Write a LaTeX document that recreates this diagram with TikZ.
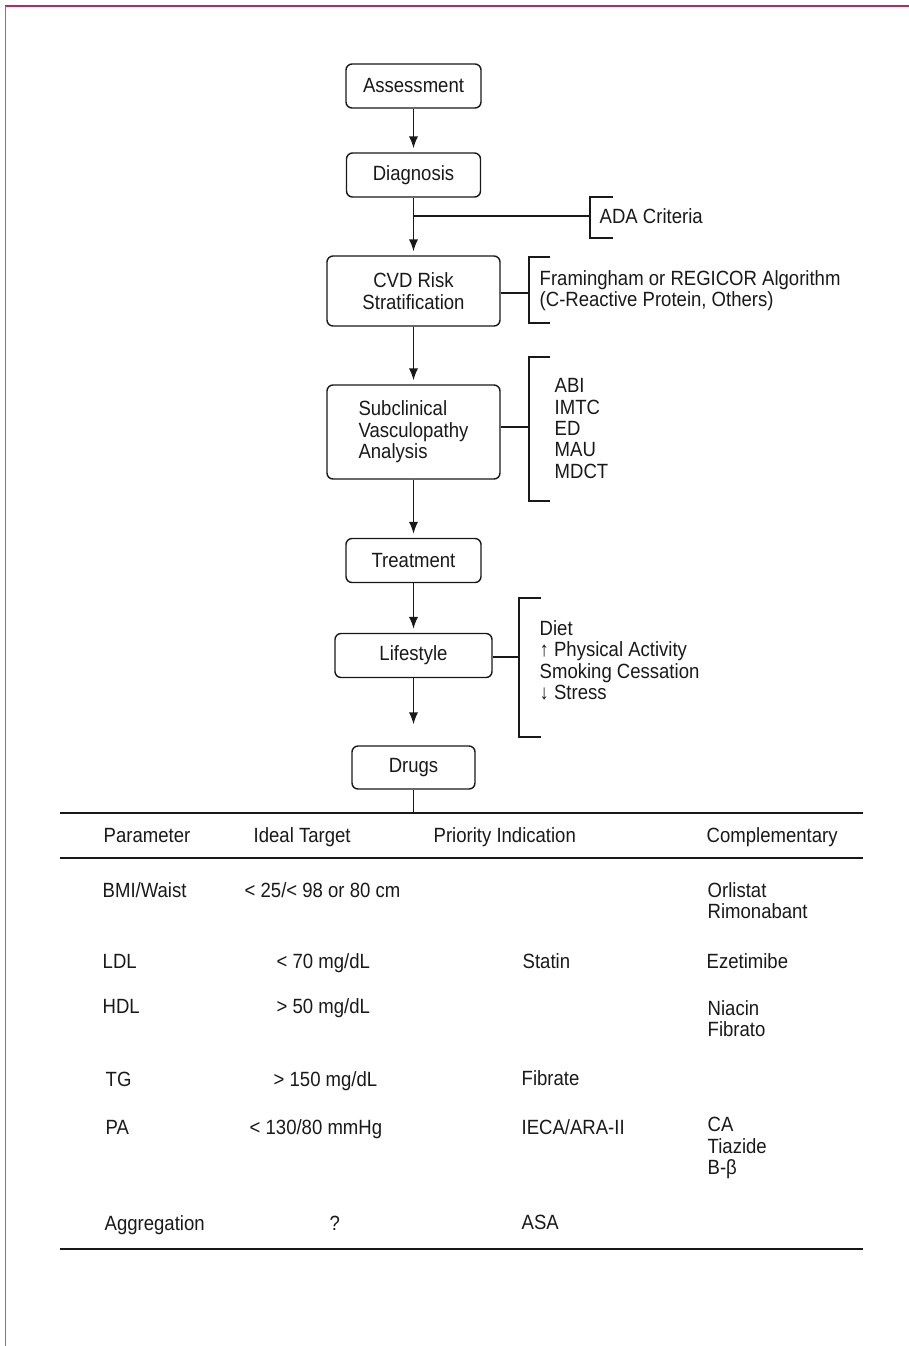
\documentclass[tikz,border=0pt]{standalone}
\usepackage{fontspec}
\setmainfont{Liberation Sans}[FakeStretch=0.9]
\usetikzlibrary{arrows.meta}
\definecolor{pagered}{RGB}{196,36,88}

\begin{document}
\begin{tikzpicture}
    [x=0.5pt,y=-0.5pt,font=\fontsize{10.3}{10.7}\selectfont,
      line width=0.7pt,color=black!90,
      stage/.style={draw,rounded corners=3pt,align=center,inner sep=0pt,minimum width=67.5pt,minimum height=22pt},
      item/.style={inner sep=0pt,anchor=west,align=left},
      cell/.style={inner sep=0pt,anchor=west,text height=7.4pt,text depth=0pt},
      flow/.style={-{Latex[length=6pt,width=4.6pt]},shorten >=2pt},
      rule/.style={line width=1pt}
    ]

    \useasboundingbox (0,0) rectangle (909,1346);
    \draw [pagered,line width=1.2pt] (5,6) -- (909,6);
    \draw [pagered!80,line width=0.6pt] (5.5,6) -- (5.5,1346);

    \node [stage] (assess) at (413.5,86) {Assessment};
    \node [stage,minimum width=67pt] (diag) at (413.5,175) {Diagnosis};
    \node [stage,minimum width=86.5pt,minimum height=35pt] (cvd) at (413.5,291) {CVD Risk\\Stratification};
    \node [stage,minimum width=86.5pt,minimum height=47pt,align=left] (subclin) at (413.5,432) {Subclinical\\Vasculopathy\\Analysis};
    \node [stage] (treat) at (413.5,560.5) {Treatment};
    \node [stage,minimum width=78.5pt] (life) at (413.5,655.5) {Lifestyle};
    \node [stage,minimum width=61.5pt,minimum height=21.5pt] (drugs) at (413.5,767.5) {Drugs};

    \draw [flow] (assess) -- (diag);
    \draw [flow] (diag) -- (cvd);
    \draw [flow] (cvd) -- (subclin);
    \draw [flow] (subclin) -- (treat);
    \draw [flow] (treat) -- (life);
    \draw [flow,shorten >=10.5pt] (life) -- (drugs);

    \coordinate (adab) at (590,216);
    \coordinate (cvdb) at (529,293);
    \coordinate (subb) at (529,427);
    \coordinate (lifeb) at (519,657);
    \draw (diag.south |- adab) -- (adab);
    \draw (adab) ++(23,-19) -- ++(-23,0) -- ++(0,41) -- ++(23,0);
    \draw (cvd.east |- cvdb) -- (cvdb);
    \draw (cvdb) ++(21,-36) -- ++(-21,0) -- ++(0,66) -- ++(21,0);
    \draw (subclin.east |- subb) -- (subb);
    \draw (subb) ++(21,-70) -- ++(-21,0) -- ++(0,144) -- ++(21,0);
    \draw (life.east |- lifeb) -- (lifeb);
    \draw (lifeb) ++(22,-59) -- ++(-22,0) -- ++(0,139) -- ++(22,0);

    \node [cell] (ada) at (599,216) {ADA Criteria};
    \node [item] (algo) at (539,290.5) {Framingham or REGICOR Algorithm\\(C-Reactive Protein, Others)};
    \node [item] (tests) at (554,428.5) {ABI\\IMTC\\ED\\MAU\\MDCT};
    \node [item] (habits) at (539,660.5) {Diet\\↑ Physical Activity\\Smoking Cessation\\↓ Stress};

    \coordinate (tabtop) at (60,813);
    \draw (drugs) -- (drugs |- tabtop);
    \draw [rule] (tabtop) -- (863,813);
    \draw [rule] (60,858) -- (863,858);
    \draw [rule] (60,1249) -- (863,1249);

    \foreach \x/\t/\n in {103/Parameter/par,253/Ideal Target/tgt,433/Priority Indication/prio,706/Complementary/comp}
      \node [cell] (h\n) at (\x,835) {\t};

    \node [cell] (bmi) at (102,890) {BMI/Waist};
    \node [cell] (bmit) at (244,890) {< 25/< 98 or 80 cm};
    \node [item] (bmic) at (707,900.5) {Orlistat\\Rimonabant};

    \node [cell] (ldl) at (102,961) {LDL};
    \node [cell] (ldlt) at (276,961) {< 70 mg/dL};
    \node [cell] (ldlp) at (522,961) {Statin};
    \node [cell] (ldlc) at (706,961) {Ezetimibe};

    \node [cell] (hdl) at (102,1006) {HDL};
    \node [cell] (hdlt) at (276,1006) {> 50 mg/dL};
    \node [item] (hdlc) at (707,1018.5) {Niacin\\Fibrato};

    \node [cell] (tg) at (105,1079) {TG};
    \node [cell] (tgt) at (273,1079) {> 150 mg/dL};
    \node [cell] (tgp) at (521,1078) {Fibrate};

    \node [cell] (pa) at (105,1127) {PA};
    \node [cell] (pat) at (249,1127) {< 130/80 mmHg};
    \node [cell] (pap) at (521,1127) {IECA/ARA-II};
    \node [item] (pac) at (707,1148) {CA\\Tiazide\\B-β};

    \node [cell] (aggr) at (104,1223) {Aggregation};
    \node [cell] (aggrt) at (329,1223) {?};
    \node [cell] (aggrp) at (521,1222) {ASA};
  \end{tikzpicture}
\end{document}
